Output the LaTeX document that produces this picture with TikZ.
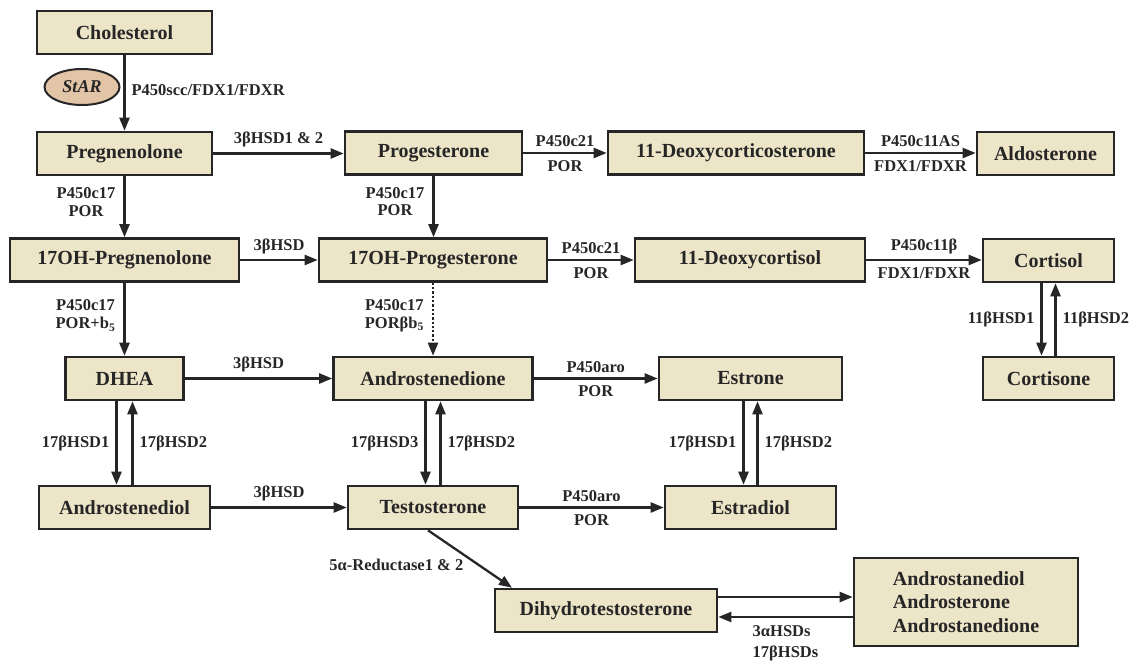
\documentclass[tikz,border=0pt]{standalone}
\usepackage{fontspec}
\setmainfont{Liberation Serif}
\usetikzlibrary{arrows.meta,shapes.geometric}
\definecolor{boxfill}{RGB}{237,229,200}
\definecolor{starfill}{RGB}{226,196,166}
\definecolor{ink}{RGB}{38,38,38}

\begin{document}
\begin{tikzpicture}[x=1pt,y=-1pt,
    hormone/.style={draw=ink,line width=2.6pt,fill=boxfill,minimum height=43pt,inner sep=0pt,
        font=\fontsize{20}{23.5}\selectfont\bfseries,text=ink},
    enz/.style={font=\fontsize{16.5}{17.5}\selectfont\bfseries,inner sep=2pt,text=ink},
    conv/.style={draw=ink,line width=2.3pt,-{Triangle[length=13pt,width=10pt]}}]
\useasboundingbox (0,0) rectangle (1137,661);
\foreach \nm/\x/\y/\w/\txt in {chol/124.5/32.5/175/Cholesterol,
    preg/124.5/153.5/175/Pregnenolone, prog/433.5/153/177/Progesterone,
    doc/736/153/256/11-Deoxycorticosterone, aldo/1045.5/153.5/137/Aldosterone,
    preg17/124.5/260/229/17OH-Pregnenolone, prog17/433/260/228/17OH-Progesterone,
    dcort/750/260/230/11-Deoxycortisol, cortisol/1048.5/260.5/131/Cortisol,
    dhea/124.5/378.5/118/DHEA, andro/433/378.5/199/Androstenedione,
    estrone/750.5/378.5/183/Estrone, cortisone/1048.5/378.5/131/Cortisone,
    adiol/124.5/507.5/171/Androstenediol, testo/433/507.5/170/Testosterone,
    estradiol/750.5/507.5/171/Estradiol, dht/606/610.5/222/Dihydrotestosterone}{
    \node[hormone,minimum width=\w pt] (\nm) at (\x,\y) {\txt};
}
\node[hormone,minimum width=224pt,minimum height=88pt,align=left] (andros) at (966,602)
    {Androstanediol\\Androsterone\\Androstanedione};
\node[draw=ink,line width=2pt,fill=starfill,ellipse,minimum width=75pt,minimum height=36pt,inner sep=0pt,
    font=\fontsize{18}{20}\selectfont\bfseries\itshape,text=ink] (star) at (82,87) {StAR};

\draw[conv] (chol.south) -- (chol.south |- preg.north)
    node[enz,pos=0.46,right=4pt] {P450scc/FDX1/FDXR};
\draw[conv] (preg.east) -- (preg.east -| prog.west) node[enz,midway,above=3pt] {3βHSD1 \& 2};
\draw[conv] (prog.east) -- (prog.east -| doc.west)
    node[enz,midway,above=3pt] {P450c21} node[enz,midway,below=4pt] {POR};
\draw[conv] (doc.east) -- (doc.east -| aldo.west)
    node[enz,midway,above=3pt] {P450c11AS} node[enz,midway,below=4pt] {FDX1/FDXR};
\draw[conv] (preg.south) -- (preg.south |- preg17.north)
    node[enz,pos=0.42,left=6pt,align=center] {P450c17\\POR};
\draw[conv] (prog.south) -- (prog.south |- prog17.north)
    node[enz,pos=0.42,left=6pt,align=center] {P450c17\\POR};
\draw[conv] (preg17.east) -- (preg17.east -| prog17.west) node[enz,midway,above=3pt] {3βHSD};
\draw[conv] (prog17.east) -- (prog17.east -| dcort.west)
    node[enz,midway,above=3pt] {P450c21} node[enz,midway,below=4pt] {POR};
\draw[conv] (dcort.east) -- (dcort.east -| cortisol.west)
    node[enz,midway,above=3pt] {P450c11β} node[enz,midway,below=4pt] {FDX1/FDXR};
\draw[conv] (preg17.south) -- (preg17.south |- dhea.north)
    node[enz,pos=0.45,left=6pt,align=center] {P450c17\\POR+b\textsubscript{5}};
\draw[conv,dotted] (prog17.south) -- (prog17.south |- andro.north)
    node[enz,pos=0.45,left=6pt,align=center] {P450c17\\PORβb\textsubscript{5}};
\draw[conv] ([xshift=-7pt]cortisol.south) -- ([xshift=-7pt]cortisone.north)
    node[enz,midway,left=4pt] {11βHSD1};
\draw[conv] ([xshift=7pt]cortisone.north) -- ([xshift=7pt]cortisol.south)
    node[enz,midway,right=4pt] {11βHSD2};
\draw[conv] (dhea.east) -- (dhea.east -| andro.west) node[enz,midway,above=3pt] {3βHSD};
\draw[conv] (andro.east) -- (andro.east -| estrone.west)
    node[enz,midway,above=3pt] {P450aro} node[enz,midway,below=4pt] {POR};
\draw[conv] ([xshift=-8pt]dhea.south) -- ([xshift=-8pt]adiol.north)
    node[enz,midway,left=4pt] {17βHSD1};
\draw[conv] ([xshift=8pt]adiol.north) -- ([xshift=8pt]dhea.south)
    node[enz,midway,right=4pt] {17βHSD2};
\draw[conv] ([xshift=-7.5pt]andro.south) -- ([xshift=-7.5pt]testo.north)
    node[enz,midway,left=4pt] {17βHSD3};
\draw[conv] ([xshift=7.5pt]testo.north) -- ([xshift=7.5pt]andro.south)
    node[enz,midway,right=4pt] {17βHSD2};
\draw[conv] ([xshift=-7pt]estrone.south) -- ([xshift=-7pt]estradiol.north)
    node[enz,midway,left=4pt] {17βHSD1};
\draw[conv] ([xshift=7pt]estradiol.north) -- ([xshift=7pt]estrone.south)
    node[enz,midway,right=4pt] {17βHSD2};
\draw[conv] (adiol.east) -- (adiol.east -| testo.west) node[enz,midway,above=3pt] {3βHSD};
\draw[conv] (testo.east) -- (testo.east -| estradiol.west)
    node[enz,midway,above=3pt] {P450aro} node[enz,midway,below=4pt] {POR};
\draw[conv] ([xshift=-5pt]testo.south) -- ([xshift=-94pt]dht.north)
    node[enz,pos=0.6,left=12pt] {5α-Reductase1 \& 2};
\draw[conv] ([yshift=13.5pt]dht.east) -- ([yshift=5pt]andros.west);
\draw[conv] ([yshift=-15pt]andros.west) -- ([yshift=-6.5pt]dht.east)
    node[enz,midway,below=5pt,align=left] {3αHSDs\\[4pt]17βHSDs};
\end{tikzpicture}
\end{document}
